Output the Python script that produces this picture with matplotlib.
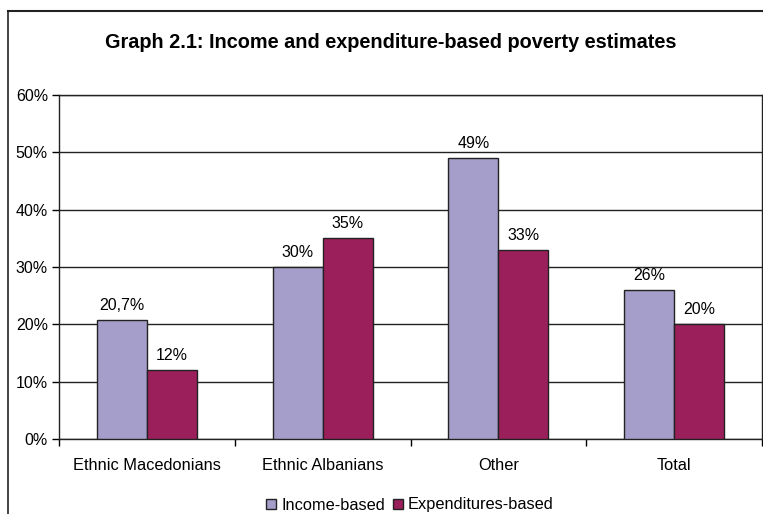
import numpy as np
import matplotlib.pyplot as plt
from matplotlib.lines import Line2D
from matplotlib.patches import Patch

plt.rcParams['font.family'] = ['Liberation Sans', 'DejaVu Sans']

# poverty rates in % by group
groups = ['Ethnic Macedonians', 'Ethnic Albanians', 'Other', 'Total']
income_based = [20.7, 30, 49, 26]
expenditure_based = [12, 35, 33, 20]
series_names = ['Income-based', 'Expenditures-based']

col_income = '#A59DCA'
col_exp = '#9A1F5A'

fig = plt.figure(figsize=(7.63, 5.14), dpi=100)
ax = fig.add_axes([59 / 763, 75 / 514, 703 / 763, 344 / 514])

ind = np.arange(len(groups))
width = 0.285

b1 = ax.bar(ind - width / 2, income_based, width, color=col_income,
            edgecolor='#222222', linewidth=1, zorder=3)
b2 = ax.bar(ind + width / 2, expenditure_based, width, color=col_exp,
            edgecolor='#222222', linewidth=1, zorder=3)


def fmt(v):
    if v == int(v):
        return '%d%%' % v
    return ('%.1f%%' % v).replace('.', ',')


for bars, vals in ((b1, income_based), (b2, expenditure_based)):
    for rect, v in zip(bars, vals):
        ax.annotate(fmt(v), (rect.get_x() + rect.get_width() / 2, v),
                    xytext=(0, 5), textcoords='offset points',
                    ha='center', va='bottom', fontsize=11.5)

ax.set_xlim(-0.5, len(groups) - 0.5)
ax.set_ylim(0, 60)
ax.set_yticks(np.arange(0, 61, 10))
ax.set_yticklabels(['%d%%' % t for t in range(0, 61, 10)], fontsize=11.5)
ax.yaxis.grid(True, color='#222222', linewidth=1)
ax.set_axisbelow(True)

# category labels centred, ticks on the group boundaries
ax.set_xticks(ind)
ax.set_xticklabels(groups, fontsize=11.8)
ax.tick_params(axis='x', length=0, pad=14)
ax.set_xticks(np.arange(-0.5, len(groups), 1), minor=True)
ax.tick_params(axis='x', which='minor', length=5, width=1, direction='out')
ax.tick_params(axis='y', length=5, width=1, direction='out', pad=3)

for s in ax.spines.values():
    s.set_color('#222222')
    s.set_linewidth(1)

fig.text(391 / 763, 1 - 43 / 514,
         'Graph 2.1: Income and expenditure-based poverty estimates',
         ha='center', va='center', fontsize=14.3, fontweight='bold')

handles = [Patch(facecolor=col_income, edgecolor='#222222', linewidth=1),
           Patch(facecolor=col_exp, edgecolor='#222222', linewidth=1)]
fig.legend(handles, series_names, loc='center',
           bbox_to_anchor=(410 / 763, 1 - 505 / 514), ncol=2, frameon=False,
           fontsize=11.8, handlelength=0.6, handleheight=0.6,
           handletextpad=0.3, columnspacing=0.5)

# outer chart frame (runs off the right and bottom edge)
fig.add_artist(Line2D([8 / 763, 8 / 763], [-0.1, 1 - 11 / 514],
                      color='#222222', linewidth=1.2))
fig.add_artist(Line2D([8 / 763, 1.1], [1 - 11 / 514, 1 - 11 / 514],
                      color='#222222', linewidth=1.5))

fig.savefig('out.png', dpi=100)
